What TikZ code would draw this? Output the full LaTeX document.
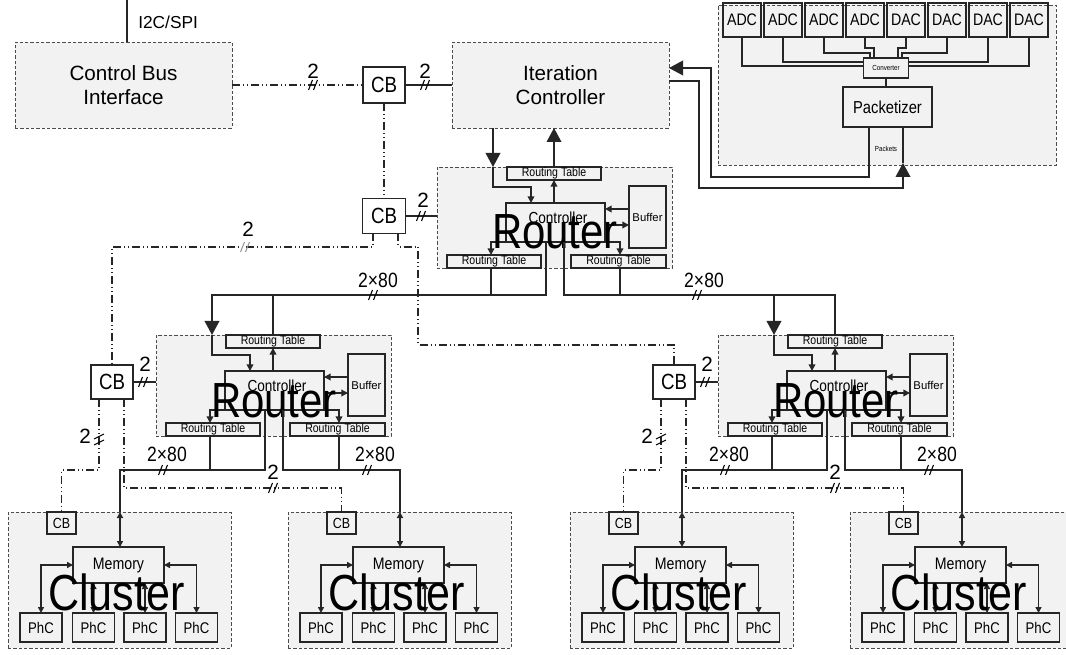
\documentclass[tikz,border=0pt]{standalone}
\usepackage{fontspec}
\setmainfont{Liberation Sans}
\newfontfamily\nar{Liberation Sans}[FakeStretch=0.85]
\usetikzlibrary{arrows.meta,calc}
\newcommand\fsz[2]{\fontsize{#1}{#2}\selectfont}
\def\PX{0.75pt}
\tikzset{
  ln/.style={line width=1.1pt, draw=black!85},
  dd/.style={line width=0.9pt, draw=black!85, dash pattern=on 6pt off 2.25pt on 0.75pt off 2.25pt on 0.75pt off 2.25pt},
  gbox/.style={draw=black!70, line width=0.6pt, dash pattern=on 2.4pt off 1.6pt, fill=black!5, inner sep=0pt, outer sep=0pt},
  wbox/.style={draw=black!85, line width=1.1pt, inner sep=0pt, outer sep=0pt},
  bigarr/.style={-{Triangle[length=10.5pt,width=11pt]}},
  sarr/.style={-{Triangle[length=5pt,width=5pt]}},
  darr/.style={{Triangle[length=4.5pt,width=4.5pt]}-{Triangle[length=4.5pt,width=4.5pt]}},
  lbl/.style={inner sep=0pt, font=\fsz{15.5pt}{15.5pt}},
  lbw/.style={inner sep=0pt, font=\nar\fsz{15.5pt}{15.5pt}},
  hsl/.pic={\draw[line width=0.8pt, pic actions] (-4.5,5)--(-0.5,-5) (0.5,5)--(4.5,-5);},
  vsl/.pic={\draw[line width=0.8pt, pic actions] (-5,-1)--(5,-6) (-5,5)--(5,0);},
  rtbl/.style={wbox, minimum width=94*\PX, minimum height=13*\PX, font=\nar\fsz{9.3pt}{9.3pt}},
  router/.pic={
    \node[gbox, minimum width=235*\PX, minimum height=101*\PX, anchor=north west] (-box) at (0,0) {};
    \node[rtbl] (-rtt) at (117,6.5) {Routing Table};
    \node[wbox, minimum width=99*\PX, minimum height=39*\PX] (-ctl) at (118.5,55.5) {};
    \node[inner sep=0pt, font=\nar\fsz{12pt}{12pt}] (-ctlt) at (121,51) {Controller};
    \node[wbox, minimum width=37*\PX, minimum height=62*\PX, font=\fsz{8.5pt}{8.5pt}] (-buf) at (210.5,50) {Buffer};
    \node[rtbl] (-rtl) at (57,94.5) {Routing Table};
    \node[rtbl, minimum width=95*\PX] (-rtr) at (181.5,94.5) {Routing Table};
    \coordinate (-in) at (56,0);
    \coordinate (-top) at (117,0);
    \coordinate (-outl) at (109,75);
    \coordinate (-outr) at (127,75);
    \coordinate (-rtlo) at (54,101);
    \coordinate (-rtro) at (183,101);
    \draw[ln, sarr] (-in) -- (56,20) -| (94,36);
    \draw[ln, sarr] (117,36) -- (-rtt.south);
    \draw[ln, sarr] (-buf.west |- 0,42) -- (-ctl.east |- 0,42);
    \draw[ln, sarr] (-ctl.east |- 0,58) -- (-buf.west |- 0,58);
    \draw[ln, sarr] (-ctl.south west) -| (-rtlo |- -rtl.north);
    \draw[ln, sarr] (-ctl.south east) -| (-rtro |- -rtr.north);
    \node[inner sep=0pt, anchor=base, font=\nar\fsz{37pt}{37pt}] (-lbl) at (118,82) {Router};
  },
  cluster/.pic={
    \node[gbox, minimum width=223*\PX, minimum height=136*\PX, anchor=north west] (-box) at (0,0) {};
    \node[wbox, minimum width=29*\PX, minimum height=22*\PX, font=\nar\fsz{11pt}{11pt}] (-cb) at (53.5,11) {CB};
    \node[wbox, minimum width=91*\PX, minimum height=36*\PX, font=\nar\fsz{12.5pt}{12.5pt}] (-mem) at (110.5,53) {Memory};
    \foreach \i/\xx in {1/33,2/85.5,3/137,4/188.5}{
      \node[wbox, minimum width=42*\PX, minimum height=29*\PX, font=\nar\fsz{11.6pt}{11.6pt}] (-p\i) at (\xx,115.5) {PhC};}
    \coordinate (-top) at (112,0);
    \draw[ln, darr] (-top) -- (-top |- -mem.north);
    \draw[ln, darr] (-mem.west) -| (-p1.north);
    \draw[ln, darr] (-mem.east) -| (-p4.north);
    \draw[ln, darr] (-p2.north |- -mem.south) -- (-p2.north);
    \draw[ln, darr] (-p3.north |- -mem.south) -- (-p3.north);
    \node[inner sep=0pt, anchor=base, font=\nar\fsz{38pt}{38pt}] (-lbl) at (108.5,98) {Cluster};
  },
}
\begin{document}
\begin{tikzpicture}[x=0.75pt,y=-0.75pt]
\useasboundingbox (0,0) rectangle (1066,655);
% ---------- top row ----------
\node[gbox, minimum width=217*\PX, minimum height=86*\PX, align=center, font=\fsz{15.5pt}{17.5pt}] (cbi) at (123.5,85) {Control Bus\\Interface};
\node[gbox, minimum width=217*\PX, minimum height=86*\PX, align=center, font=\fsz{15.5pt}{17.5pt}] (ic) at (560.5,85) {Iteration\\Controller};
\coordinate (i2c) at (127,0);
\draw[ln] (i2c) -- (i2c |- cbi.north);
\node[anchor=west, inner sep=0pt, font=\fsz{13pt}{13pt}] (i2cl) at (138,22) {I2C/SPI};
\node[wbox, minimum width=42*\PX, minimum height=36*\PX, font=\nar\fsz{16.5pt}{16.5pt}] (cb1) at (384,85) {CB};
\node[wbox, minimum width=43*\PX, minimum height=35*\PX, font=\nar\fsz{16.5pt}{16.5pt}] (cb2) at (384,216) {CB};
\node[wbox, minimum width=42*\PX, minimum height=34*\PX, font=\nar\fsz{16.5pt}{16.5pt}] (cb3) at (112,382) {CB};
\node[wbox, minimum width=42*\PX, minimum height=34*\PX, font=\nar\fsz{16.5pt}{16.5pt}] (cb4) at (674,382) {CB};
% ---------- ADC panel ----------
\node[gbox, minimum width=338*\PX, minimum height=160*\PX, anchor=north west] (adcp) at (718,5) {};
\foreach \i/\lab in {0/ADC,1/ADC,2/ADC,3/ADC,4/DAC,5/DAC,6/DAC,7/DAC}{
  \node[wbox, minimum width=38*\PX, minimum height=34*\PX, font=\nar\fsz{12.5pt}{12.5pt}] (a\i) at (742+41*\i,20) {\lab};}
\node[wbox, minimum width=45*\PX, minimum height=20*\PX, font=\nar\fsz{5.5pt}{5.5pt}] (conv) at (886,68) {Converter};
\node[wbox, minimum width=89*\PX, minimum height=40*\PX, font=\nar\fsz{13pt}{13pt}] (pkt) at (887.5,107) {Packetizer};
\draw[ln] (a0.south) |- ($(conv.west)+(0,-2)$);
\draw[ln] (a1.south) |- ($(conv.west)+(0,-6)$);
\draw[ln] (a2.south) -- ++(0,16) -| ($(conv.north)+(-16,0)$);
\draw[ln] (a3.south) -- ++(0,11) -| ($(conv.north)+(-12,0)$);
\draw[ln] (a4.south) -- ++(0,11) -| ($(conv.north)+(12,0)$);
\draw[ln] (a5.south) -- ++(0,16) -| ($(conv.north)+(16,0)$);
\draw[ln] (a6.south) |- ($(conv.east)+(0,-6)$);
\draw[ln] (a7.south) |- ($(conv.east)+(0,-2)$);
\draw[ln] (conv.south) -- (conv.south |- pkt.north);
\coordinate (q1) at (711,177);
\coordinate (q2) at (711,68);
\coordinate (q0) at (699,81);
\coordinate (q3) at (699,188);
\coordinate (q4) at (903,163);
\draw[ln, bigarr] ($(pkt.south)+(-18.5,0)$) |- (q1) -- (q2) -- (q2 -| ic.east);
\draw[ln, bigarr] (q0 -| ic.east) -- (q0) -- (q3) -| (q4);
\draw[ln] (q4) -- (q4 |- pkt.south);
\node[inner sep=0pt, font=\nar\fsz{5.5pt}{5.5pt}] (pktl) at (886,149) {Packets};
% ---------- routers & clusters ----------
\pic (r1) at (437,167) {router};
\pic (r2) at (156,335) {router};
\pic (r3) at (718,335) {router};
\pic (c1) at (8,512) {cluster};
\pic (c2) at (288,512) {cluster};
\pic (c3) at (570,512) {cluster};
\pic (c4) at (850,512) {cluster};
% ---------- control bus links ----------
\draw[dd] (cbi.east) -- (cb1.west);
\pic at (313,85) {hsl};
\node[lbl] (t1) at (313,71) {2};
\draw[ln] (cb1.east) -- (ic.west);
\pic at (425,85) {hsl};
\node[lbl] (t2) at (425,71) {2};
\draw[dd] (cb1.south) -- (cb2.north);
\draw[ln] (cb2.east) -- (cb2.east -| r1-box.west);
\pic at (421,216) {hsl};
\node[lbl] (t3) at (423,200) {2};
\draw[dd] ($(cb2.south)+(-11,0)$) -- ++(0,13.5) -| (cb3.north);
\pic[draw=black!40] at (245,247) {hsl};
\node[lbl] (t4) at (248,229) {2};
\coordinate (k1) at (418,247);
\coordinate (k2) at (418,345);
\draw[dd] ($(cb2.south)+(14,0)$) |- (k1) -- (k2) -| (cb4.north);
% left subtree
\draw[ln] (cb3.east) -- (cb3.east -| r2-box.west);
\pic at (143,382) {hsl};
\node[lbl] (t5) at (145,364) {2};
\draw[dd] ($(cb3.south)+(-13,0)$) -- ++(0,71) -| (c1-cb.north);
\pic at (99,440) {vsl};
\node[lbl] (t6) at (85,436) {2};
\draw[dd] ($(cb3.south)+(12,0)$) -- ++(0,89) -| (c2-cb.north);
\pic at (273,488) {hsl};
\node[lbl] (t7) at (273,472) {2};
% right subtree
\draw[ln] (cb4.east) -- (cb4.east -| r3-box.west);
\pic at (705,382) {hsl};
\node[lbl] (t8) at (707,364) {2};
\draw[dd] ($(cb4.south)+(-13,0)$) -- ++(0,71) -| (c3-cb.north);
\pic at (661,440) {vsl};
\node[lbl] (t9) at (647,436) {2};
\draw[dd] ($(cb4.south)+(12,0)$) -- ++(0,89) -| (c4-cb.north);
\pic at (835,488) {hsl};
\node[lbl] (t10) at (835,472) {2};
% ---------- data paths ----------
\coordinate (busA) at (0,295);
\coordinate (busB) at (0,470);
\draw[ln, bigarr] (ic.south -| r1-in) -- (r1-in);
\draw[ln, bigarr] (r1-top) -- (r1-top |- ic.south);
\draw[ln, bigarr] (r1-outl) -- (r1-outl |- busA) -| (r2-in);
\draw[ln] (r1-rtlo) -- (r1-rtlo |- busA);
\draw[ln] (r2-top) -- (r2-top |- busA);
\draw[ln] (r1-outr) -- (r1-outr |- busA) -- (r3-top |- busA) -- (r3-top);
\draw[ln, bigarr] (r3-in |- busA) -- (r3-in);
\draw[ln] (r1-rtro) -- (r1-rtro |- busA);
\pic at (373,295) {hsl};
\node[lbw] (w1) at (378,280) {2×80};
\pic at (697,295) {hsl};
\node[lbw] (w2) at (704,280) {2×80};
% lower buses
\draw[ln] (r2-outl) -- (r2-outl |- busB) -| (c1-top);
\draw[ln] (r2-rtlo) -- (r2-rtlo |- busB);
\draw[ln] (r2-outr) -- (r2-outr |- busB) -| (c2-top);
\draw[ln] (r2-rtro) -- (r2-rtro |- busB);
\draw[ln] (r3-outl) -- (r3-outl |- busB) -| (c3-top);
\draw[ln] (r3-rtlo) -- (r3-rtlo |- busB);
\draw[ln] (r3-outr) -- (r3-outr |- busB) -| (c4-top);
\draw[ln] (r3-rtro) -- (r3-rtro |- busB);
\pic at (163,470) {hsl};
\node[lbw] (w3) at (167,454) {2×80};
\pic at (367,470) {hsl};
\node[lbw] (w4) at (375,454) {2×80};
\pic at (725,470) {hsl};
\node[lbw] (w5) at (729,454) {2×80};
\pic at (929,470) {hsl};
\node[lbw] (w6) at (937,454) {2×80};
\end{tikzpicture}
\end{document}
